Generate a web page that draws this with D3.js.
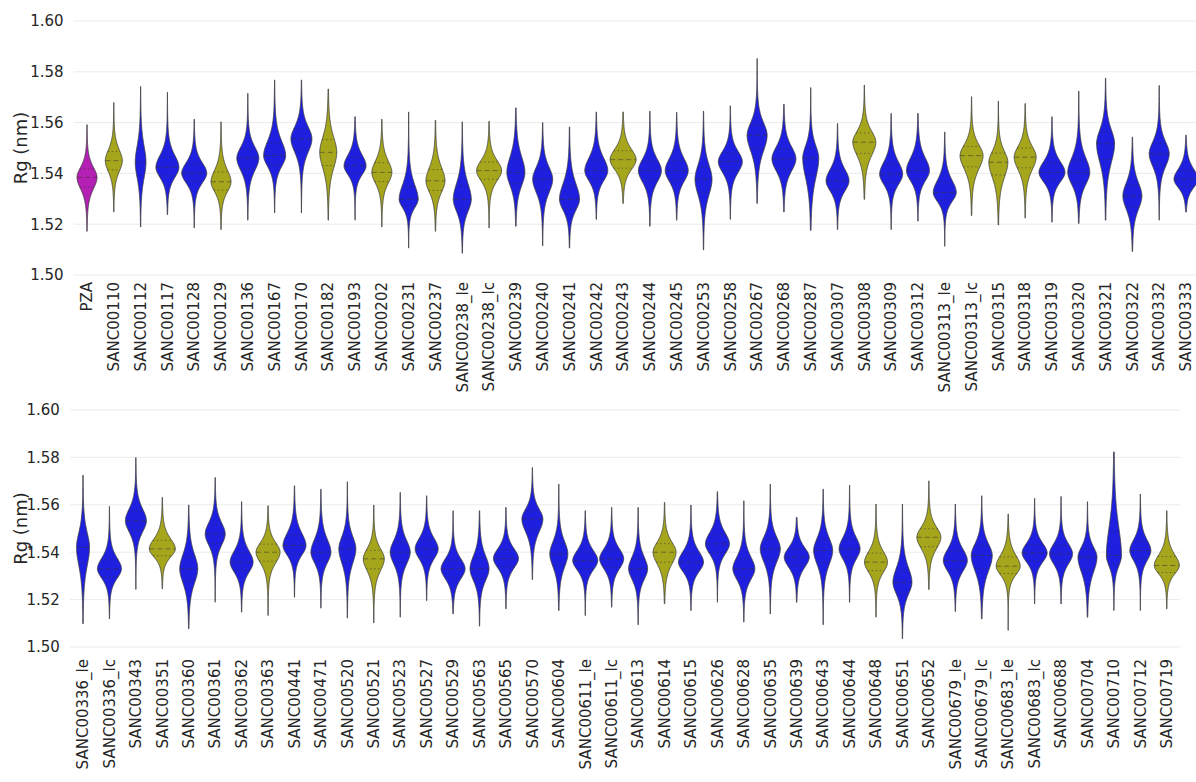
<!DOCTYPE html>
<html>
<head>
<meta charset="utf-8">
<script src="https://cdn.jsdelivr.net/npm/d3@7"></script>
<style>
  body { margin: 0; background: #fff; }
  text { font-family: "DejaVu Sans", sans-serif; fill: #262626; }
</style>
</head>
<body>
<svg width="1196" height="782"></svg>
<script>
// --- Data (Rg in nm): median, quartiles, extremes, peak KDE density (1/nm) ---
const topCats = ["PZA","SANC00110","SANC00112","SANC00117","SANC00128","SANC00129","SANC00136","SANC00167","SANC00170","SANC00182","SANC00193","SANC00202","SANC00231","SANC00237","SANC00238_le","SANC00238_lc","SANC00239","SANC00240","SANC00241","SANC00242","SANC00243","SANC00244","SANC00245","SANC00253","SANC00258","SANC00267","SANC00268","SANC00287","SANC00307","SANC00308","SANC00309","SANC00312","SANC00313_le","SANC00313_lc","SANC00315","SANC00318","SANC00319","SANC00320","SANC00321","SANC00322","SANC00332","SANC00333"];
const topMedian = [1.5384,1.5450,1.5444,1.5424,1.5401,1.5367,1.5460,1.5470,1.5536,1.5483,1.5430,1.5404,1.5298,1.5371,1.5298,1.5411,1.5404,1.5377,1.5298,1.5411,1.5454,1.5411,1.5411,1.5377,1.5446,1.5550,1.5457,1.5460,1.5371,1.5523,1.5397,1.5411,1.5325,1.5470,1.5444,1.5464,1.5404,1.5404,1.5517,1.5311,1.5477,1.5377];
const topQ1 = [1.5346,1.5414,1.5392,1.5390,1.5368,1.5334,1.5419,1.5434,1.5492,1.5431,1.5400,1.5368,1.5270,1.5333,1.5258,1.5377,1.5360,1.5333,1.5262,1.5377,1.5421,1.5373,1.5375,1.5325,1.5410,1.5498,1.5417,1.5395,1.5337,1.5479,1.5363,1.5377,1.5295,1.5426,1.5394,1.5422,1.5372,1.5364,1.5455,1.5267,1.5435,1.5349];
const topQ3 = [1.5418,1.5486,1.5498,1.5464,1.5436,1.5406,1.5497,1.5518,1.5576,1.5533,1.5466,1.5442,1.5346,1.5415,1.5350,1.5445,1.5456,1.5417,1.5350,1.5453,1.5489,1.5449,1.5451,1.5425,1.5481,1.5592,1.5497,1.5501,1.5409,1.5559,1.5437,1.5453,1.5365,1.5506,1.5480,1.5500,1.5440,1.5452,1.5563,1.5355,1.5517,1.5411];
const topMin = [1.5172,1.5248,1.5189,1.5238,1.5185,1.5179,1.5216,1.5245,1.5245,1.5216,1.5216,1.5189,1.5106,1.5172,1.5086,1.5185,1.5192,1.5115,1.5106,1.5219,1.5282,1.5192,1.5216,1.5099,1.5219,1.5282,1.5248,1.5176,1.5179,1.5298,1.5179,1.5212,1.5113,1.5234,1.5197,1.5224,1.5208,1.5203,1.5216,1.5093,1.5216,1.5248];
const topMax = [1.5592,1.5679,1.5742,1.5719,1.5613,1.5603,1.5715,1.5768,1.5768,1.5732,1.5623,1.5613,1.5642,1.5609,1.5603,1.5605,1.5658,1.5600,1.5583,1.5642,1.5642,1.5645,1.5640,1.5645,1.5666,1.5852,1.5672,1.5738,1.5596,1.5748,1.5636,1.5636,1.5563,1.5702,1.5685,1.5675,1.5623,1.5724,1.5775,1.5543,1.5746,1.5550];
const topDensity = [80,68,43,92,100,80,88,88,84,68,88,80,76,76,72,100,72,80,80,92,104,92,92,68,96,80,96,64,92,92,92,92,92,92,76,88,104,88,72,76,80,96];
const topGroup = ["m","y","b","b","b","y","b","b","b","y","b","y","b","y","b","y","b","b","b","b","y","b","b","b","b","b","b","b","b","y","b","b","b","y","y","y","b","b","b","b","b","b"];

const botCats = ["SANC00336_le","SANC00336_lc","SANC00343","SANC00351","SANC00360","SANC00361","SANC00362","SANC00363","SANC00441","SANC00471","SANC00520","SANC00521","SANC00523","SANC00527","SANC00529","SANC00563","SANC00565","SANC00570","SANC00604","SANC00611_le","SANC00611_lc","SANC00613","SANC00614","SANC00615","SANC00626","SANC00628","SANC00635","SANC00639","SANC00643","SANC00644","SANC00648","SANC00651","SANC00652","SANC00679_le","SANC00679_lc","SANC00683_le","SANC00683_lc","SANC00688","SANC00704","SANC00710","SANC00712","SANC00719"];
const botMedian = [1.5420,1.5330,1.5533,1.5414,1.5330,1.5477,1.5358,1.5400,1.5428,1.5400,1.5414,1.5372,1.5400,1.5414,1.5330,1.5330,1.5374,1.5540,1.5393,1.5365,1.5372,1.5330,1.5400,1.5358,1.5435,1.5330,1.5414,1.5379,1.5407,1.5414,1.5358,1.5273,1.5463,1.5365,1.5386,1.5341,1.5397,1.5393,1.5379,1.5386,1.5407,1.5344];
const botQ1 = [1.5355,1.5296,1.5493,1.5385,1.5279,1.5437,1.5322,1.5362,1.5394,1.5362,1.5363,1.5330,1.5358,1.5378,1.5294,1.5288,1.5339,1.5494,1.5346,1.5331,1.5336,1.5292,1.5358,1.5324,1.5399,1.5292,1.5367,1.5343,1.5358,1.5378,1.5322,1.5231,1.5423,1.5327,1.5331,1.5310,1.5364,1.5357,1.5326,1.5348,1.5371,1.5314];
const botQ3 = [1.5473,1.5368,1.5575,1.5450,1.5381,1.5517,1.5398,1.5434,1.5472,1.5446,1.5458,1.5408,1.5442,1.5452,1.5366,1.5376,1.5409,1.5576,1.5437,1.5401,1.5408,1.5372,1.5436,1.5396,1.5475,1.5372,1.5456,1.5413,1.5451,1.5454,1.5396,1.5324,1.5499,1.5405,1.5428,1.5380,1.5432,1.5429,1.5415,1.5487,1.5445,1.5382];
const botMin = [1.5098,1.5119,1.5243,1.5245,1.5077,1.5189,1.5147,1.5133,1.5210,1.5164,1.5122,1.5102,1.5126,1.5196,1.5140,1.5088,1.5161,1.5285,1.5154,1.5133,1.5168,1.5094,1.5182,1.5154,1.5189,1.5105,1.5140,1.5189,1.5094,1.5189,1.5126,1.5035,1.5243,1.5150,1.5119,1.5070,1.5182,1.5182,1.5126,1.5154,1.5154,1.5161];
const botMax = [1.5725,1.5593,1.5799,1.5631,1.5599,1.5715,1.5613,1.5596,1.5680,1.5666,1.5697,1.5599,1.5652,1.5638,1.5575,1.5575,1.5589,1.5757,1.5687,1.5575,1.5589,1.5589,1.5610,1.5599,1.5655,1.5617,1.5687,1.5547,1.5666,1.5683,1.5603,1.5603,1.5701,1.5603,1.5638,1.5561,1.5627,1.5635,1.5613,1.5823,1.5645,1.5575];
const botDensity = [52,96,84,104,72,80,92,96,92,80,68,84,80,92,96,76,100,84,72,100,96,76,92,100,96,88,80,100,76,84,92,76,96,96,84,96,100,92,76,60,84,100];
const botGroup = ["b","b","b","y","b","b","b","y","b","b","b","y","b","b","b","b","b","b","b","b","b","b","y","b","b","b","b","b","b","b","y","b","y","b","b","y","b","b","b","b","b","y"];

const yTicks = [1.50, 1.52, 1.54, 1.56, 1.58, 1.60];

// --- Setup ---
const svg = d3.select("svg");
const colors = { m: "#b41fb4", y: "#a6a61d", b: "#1f1fe0" };

function drawPanel(p) {
    const g = svg.append("g");
    const x = d3.scaleBand().domain(p.cats).range(p.xRange);
    const y = d3.scaleLinear().domain([1.50, 1.60]).range(p.yRange);
    const w = d3.scaleLinear().domain([0, 104]).range([0, 13]);   // half width from density

    // gridlines
    g.append("g").selectAll("line")
        .data(yTicks)
        .enter().append("line")
        .attr("x1", p.xRange[0]).attr("x2", p.xRange[1])
        .attr("y1", d => y(d)).attr("y2", d => y(d))
        .attr("stroke", "#ebebeb")
        .attr("stroke-width", 1);

    // y axis
    const yAxis = g.append("g")
        .attr("transform", `translate(${p.xRange[0]},0)`)
        .call(d3.axisLeft(y).tickValues(yTicks).tickSize(0).tickPadding(10).tickFormat(d3.format(".2f")));
    yAxis.select(".domain").remove();
    yAxis.selectAll("text").attr("font-size", "15px").attr("font-family", "DejaVu Sans");

    // x axis (rotated labels)
    const xAxis = g.append("g")
        .attr("transform", `translate(0,${p.yRange[0]})`)
        .call(d3.axisBottom(x).tickSize(0));
    xAxis.select(".domain").remove();
    xAxis.selectAll("text")
        .attr("font-size", "15px")
        .attr("font-family", "DejaVu Sans")
        .attr("transform", "rotate(-90)")
        .attr("x", -p.labelPad)
        .attr("y", 0)
        .attr("dy", "0.35em")
        .style("text-anchor", "end");

    // y label
    g.append("text")
        .attr("transform", `translate(21,${(p.yRange[0] + p.yRange[1]) / 2}) rotate(-90)`)
        .attr("text-anchor", "middle")
        .attr("dy", "0.35em")
        .attr("font-size", "18px")
        .text("Rg (nm)");

    // violin outline: skewed heavy-tailed profile from the quartiles
    function profile(i, v) {
        const m = p.median[i];
        const s = (v >= m ? p.q3[i] - m : m - p.q1[i]) / 0.741;
        const z = (v - m) / s;
        return Math.pow(1 + z * z / 4, -2.5);
    }

    const violins = g.append("g").selectAll("g")
        .data(p.cats)
        .enter().append("g");

    violins.append("path")
        .attr("d", (c, i) => {
            const cx = x(c) + x.bandwidth() / 2;
            const lo = p.min[i], hi = p.max[i];
            const pts = d3.range(0, 161).map(k => lo + (hi - lo) * k / 160);
            return d3.area()
                .y(v => y(v))
                .x0(v => cx - w(p.density[i]) * profile(i, v))
                .x1(v => cx + w(p.density[i]) * profile(i, v))(pts);
        })
        .attr("fill", (c, i) => colors[p.group[i]])
        .attr("stroke", "#3c3c3c")
        .attr("stroke-width", 0.8);

    // inner quartile lines
    violins.each(function (c, i) {
        const cx = x(c) + x.bandwidth() / 2;
        const qs = [[p.q1[i], "1.5,2.5"], [p.median[i], "5,3"], [p.q3[i], "1.5,2.5"]];
        d3.select(this).selectAll("line")
            .data(qs)
            .enter().append("line")
            .attr("x1", d => cx - w(p.density[i]) * profile(i, d[0]))
            .attr("x2", d => cx + w(p.density[i]) * profile(i, d[0]))
            .attr("y1", d => y(d[0])).attr("y2", d => y(d[0]))
            .attr("stroke", "#333")
            .attr("stroke-opacity", 0.55)
            .attr("stroke-width", 1)
            .attr("stroke-dasharray", d => d[1]);
    });
}

drawPanel({
    cats: topCats, median: topMedian, q1: topQ1, q3: topQ3, min: topMin, max: topMax,
    density: topDensity, group: topGroup,
    xRange: [73.6, 1199.4], yRange: [275, 21], labelPad: 7
});

drawPanel({
    cats: botCats, median: botMedian, q1: botQ1, q3: botQ3, min: botMin, max: botMax,
    density: botDensity, group: botGroup,
    xRange: [69.8, 1180], yRange: [647, 410], labelPad: 12
});
</script>
</body>
</html>
